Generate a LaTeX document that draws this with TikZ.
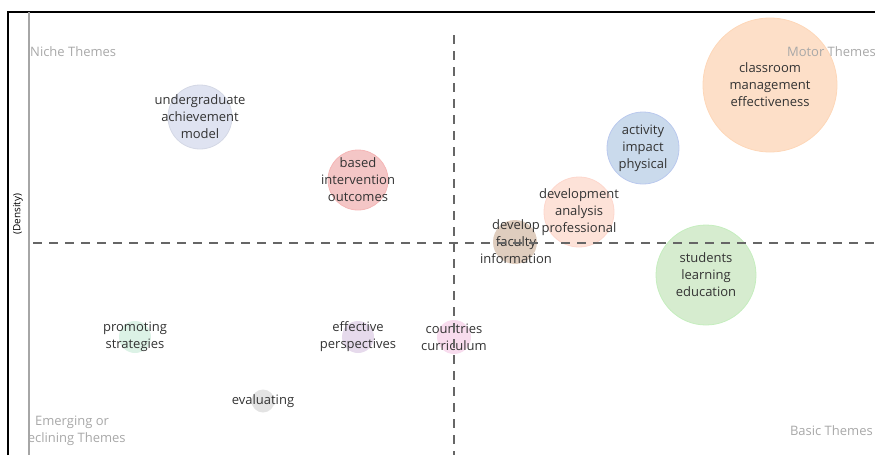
\documentclass[tikz,border=0pt]{standalone}
\usepackage{fontspec}
\setmainfont{Open Sans}
\usetikzlibrary{calc}

\definecolor{ugfill}{HTML}{DFE3F1}
\definecolor{bifill}{HTML}{F4C6C6}
\definecolor{cmfill}{HTML}{FDDFC8}
\definecolor{apfill}{HTML}{CADAEC}
\definecolor{dafill}{HTML}{FDE2D8}
\definecolor{dffill}{HTML}{DFCDBE}
\definecolor{slfill}{HTML}{D6ECCF}
\definecolor{psfill}{HTML}{DCF2E6}
\definecolor{epfill}{HTML}{E6DAEC}
\definecolor{ccfill}{HTML}{F8DCEE}
\definecolor{evfill}{HTML}{E3E3E3}
\definecolor{cornergray}{HTML}{A8A8A8}
\definecolor{dashgray}{HTML}{666666}

\begin{document}
\begin{tikzpicture}[x=1pt,y=-1pt,
	bubble/.style={circle,inner sep=0pt,minimum size=#1,line width=0.8pt},
	term/.style={align=center,inner sep=0pt,font=\fontsize{13}{17}\selectfont,text=black!80},
	corner/.style={inner sep=0pt,align=center,font=\fontsize{13}{17}\selectfont,text=cornergray}]
\useasboundingbox (0,0) rectangle (875,455);

%% cadre
\coordinate (f0) at (8,455);
\coordinate (f1) at (8,12);
\coordinate (f2) at (875,12);
\draw [line width=1.4pt] (f0)--(f1)--(f2);
\coordinate (a0) at (29,12);
\coordinate (a1) at (29,455);
\draw [gray!70, line width=1.2pt] (a0)--(a1);
\node[rotate=90, font=\fontsize{10}{11}\selectfont] (dens) at (18,214) {(Density)};

%% bulles
\node[bubble=64pt, fill=ugfill, draw=ugfill!95!black] (ug) at (200,117) {};
\node[bubble=60pt, fill=bifill, draw=bifill!92!red] (bi) at (358,180) {};
\node[bubble=134pt, fill=cmfill, draw=cmfill!92!orange] (cm) at (770,85) {};
\node[bubble=72pt, fill=apfill, draw=apfill!92!blue] (ap) at (643,148) {};
\node[bubble=70pt, fill=dafill, draw=dafill!95!red] (da) at (579,212) {};
\node[bubble=44pt, fill=dffill] (df) at (515,242) {};
\node[bubble=100pt, fill=slfill, draw=slfill!92!green] (sl) at (706,275) {};
\node[bubble=32pt, fill=psfill] (ps) at (135,337) {};
\node[bubble=32pt, fill=epfill] (ep) at (358,337) {};
\node[bubble=34pt, fill=ccfill] (cc) at (454,337) {};
\node[bubble=23pt, fill=evfill] (ev) at (263,401) {};

%% quadrants
\node[corner, anchor=west] (niche) at (30,52) {Niche Themes};
\node[corner, anchor=east] (motor) at (876,52) {Motor Themes};
\node[corner, anchor=east] (basic) at (873,431) {Basic Themes};
\begin{scope}
\clip (29,0) rectangle (875,455);
\node[corner] (emerg) at (72,431) {Emerging or\\Declining Themes};
\end{scope}

%% termes
\node[term] (ugt) at (ug) {undergraduate\\achievement\\model};
\node[term] (bit) at (bi) {based\\intervention\\outcomes};
\node[term] (cmt) at (cm) {classroom\\management\\effectiveness};
\node[term] (apt) at (ap) {activity\\impact\\physical};
\node[term] (dat) at (da) {development\\analysis\\professional};
\node[term] (dft) at ($(df)+(1,0)$) {develop\\faculty\\information};
\node[term] (slt) at (sl) {students\\learning\\education};
\node[term] (pst) at (ps) {promoting\\strategies};
\node[term] (ept) at (ep) {effective\\perspectives};
\node[term] (cct) at (cc) {countries\\curriculum};
\node[term] (evt) at (ev) {evaluating};

%% axes en tirets
\coordinate (h0) at (33,243);
\coordinate (h1) at (875,243);
\coordinate (v0) at (454,35);
\coordinate (v1) at (454,455);
\draw [dashgray, line width=1.6pt, dash pattern=on 9pt off 7pt] (h0)--(h1);
\draw [dashgray, line width=1.6pt, dash pattern=on 9pt off 7pt] (v0)--(v1);

\end{tikzpicture}
\end{document}
